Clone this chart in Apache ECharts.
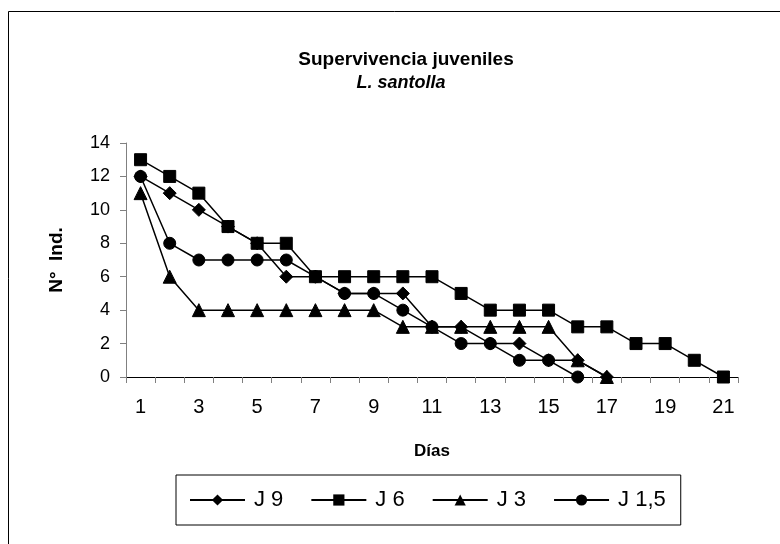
<!DOCTYPE html>
<html><head><meta charset="utf-8">
<script src="https://cdn.jsdelivr.net/npm/echarts@6/dist/echarts.min.js"></script>
<style>html,body{margin:0;padding:0;background:#fff}#c{width:780px;height:544px}</style>
</head><body><div id="c"></div>
<script>
const days = ["1","2","3","4","5","6","7","8","9","10","11","12","13","14","15","16","17","18","19","20","21"];
const j9  = [12,11,10,9,8,6,6,5,5,5,3,3,2,2,1,1,0];
const j6  = [13,12,11,9,8,8,6,6,6,6,6,5,4,4,4,3,3,2,2,1,0];
const j3  = [11,6,4,4,4,4,4,4,4,3,3,3,3,3,3,1,0];
const j15 = [12,8,7,7,7,7,6,5,5,4,3,2,2,1,1,0];
const seriesNames = ["J 9","J 6","J 3","J 1,5"];
const yTicks = {min:0,max:14,interval:2};

const font = "Liberation Sans, Arial, sans-serif";
const chart = echarts.init(document.getElementById('c'), null, {renderer:'canvas'});
function mk(name, data, symbol, size){
  return {name, type:'line', data, symbol, symbolSize:size, showAllSymbol:true,
    lineStyle:{color:'#000',width:1.5}, itemStyle:{color:'#000',borderColor:'#000'},
    emphasis:{disabled:true}, animation:false};
}
chart.setOption({
  animation:false,
  backgroundColor:'#fff',
  title:[
    {text:'Supervivencia juveniles', left:401, top:45, textAlign:'center',
     textStyle:{fontFamily:font,fontSize:19,fontWeight:'bold',color:'#000'}},
    {text:'L. santolla', left:396, top:69, textAlign:'center',
     textStyle:{fontFamily:font,fontSize:18,fontWeight:'bold',fontStyle:'italic',color:'#000'}}
  ],
  graphic:[
    {type:'rect', shape:{x:8.5,y:11.5,width:900,height:700}, style:{fill:'none',stroke:'#000',lineWidth:1}, silent:true, z:-1}
  ],
  grid:{left:126,right:42,top:143,bottom:167},
  legend:{
    data:seriesNames, left:176, top:475, orient:'horizontal',
    itemWidth:55, itemHeight:14, itemGap:27,
    padding:[14,15,14,13],
    borderColor:'#000', borderWidth:1,
    textStyle:{fontFamily:font,fontSize:22,color:'#000',padding:[0,0,0,4]},
    selectedMode:false
  },
  xAxis:{
    type:'category', data:days, boundaryGap:true,
    name:'Días', nameLocation:'middle', nameGap:66,
    nameTextStyle:{fontFamily:font,fontSize:17,fontWeight:'bold',color:'#000'},
    axisLine:{lineStyle:{color:'#000',width:1}},
    axisTick:{show:true,interval:0,length:6,lineStyle:{color:'#808080'}},
    axisLabel:{interval:1,fontFamily:font,fontSize:20,color:'#000',margin:20},
    splitLine:{show:false}
  },
  yAxis:{
    type:'value', min:yTicks.min, max:yTicks.max, interval:yTicks.interval,
    name:'N°  Ind.', nameLocation:'middle', nameGap:60, nameRotate:90,
    nameTextStyle:{fontFamily:font,fontSize:19,fontWeight:'bold',color:'#000'},
    axisLine:{show:true,lineStyle:{color:'#808080',width:1}},
    axisTick:{show:true,length:6,lineStyle:{color:'#808080'}},
    axisLabel:{fontFamily:font,fontSize:18,color:'#000',margin:16},
    splitLine:{show:false}
  },
  series:[
    mk(seriesNames[0], j9, 'diamond', 13),
    mk(seriesNames[1], j6, 'rect', 12),
    mk(seriesNames[2], j3, 'triangle', 13),
    mk(seriesNames[3], j15, 'circle', 12)
  ]
});
</script></body></html>
